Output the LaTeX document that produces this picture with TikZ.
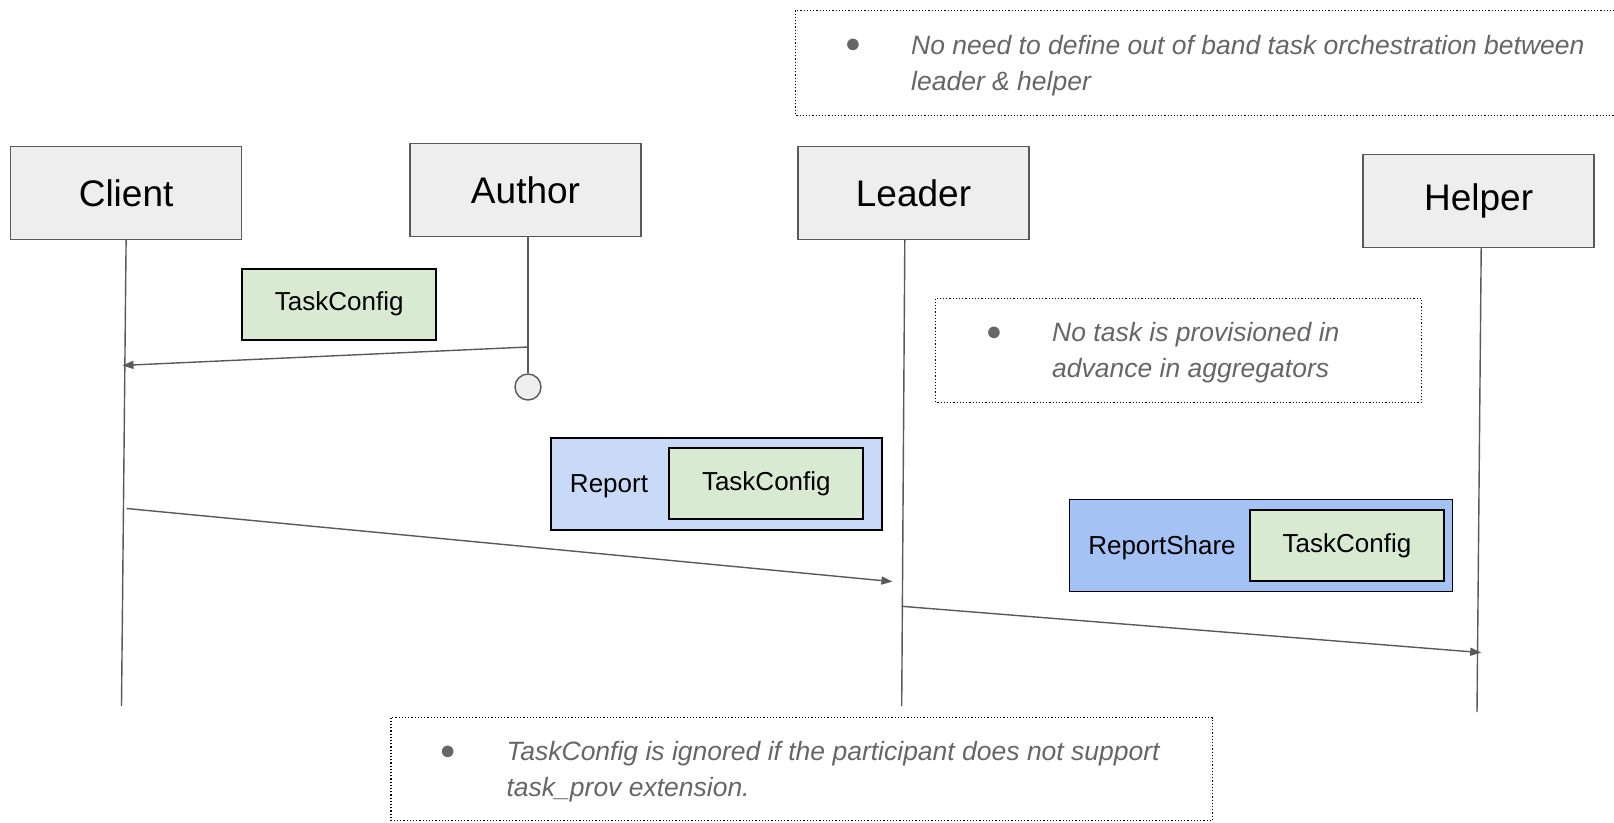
\documentclass[tikz,border=0pt]{standalone}
\usepackage{fontspec}
\setmainfont{Liberation Sans}
\usetikzlibrary{arrows.meta}
\definecolor{boxgray}{HTML}{EEEEEE}
\definecolor{linegray}{HTML}{595959}
\definecolor{cfggreen}{HTML}{D9EAD3}
\definecolor{rptblue}{HTML}{C9DAF8}
\definecolor{shareblue}{HTML}{A4C2F4}
\definecolor{notegray}{HTML}{666666}
\tikzstyle{actor}=[draw=linegray, fill=boxgray, line width=1.3pt, minimum width=231pt, minimum height=93pt, inner sep=0pt, font=\fontsize{37}{44}\selectfont]
\tikzstyle{cfg}=[draw=black, fill=cfggreen, line width=1.8pt, minimum width=194pt, minimum height=71pt, inner sep=0pt, font=\fontsize{26}{31}\selectfont]
\tikzstyle{msg}=[draw=black, line width=1.6pt, inner sep=0pt, minimum height=92pt]
\tikzstyle{note}=[draw=black, dotted, line width=1.2pt]
\tikzstyle{notetext}=[anchor=west, text=notegray, inner sep=0pt, align=left, font=\fontsize{26.5}{36}\selectfont\itshape]
\tikzstyle{bullet}=[text=notegray, inner sep=0pt, font=\fontsize{27}{30}\selectfont]
\tikzstyle{life}=[draw=linegray, line width=1.4pt]
\tikzstyle{call}=[life, -{Triangle[length=11pt,width=8pt]}]

\begin{document}
\begin{tikzpicture}[x=1pt, y=-1pt]
                \useasboundingbox (0,0) rectangle (1614,822);
                \clip (0,0) rectangle (1614,822);
                \node[actor] (client) at (126.1, 193) {Client};
                \node[actor] (author) at (525.5, 189.9) {Author};
                \node[actor] (leader) at (913.5, 193) {Leader};
                \node[actor] (helper) at (1478.6, 200.7) {Helper};
                \node[circle, draw=linegray, fill=boxgray, line width=1.4pt, minimum size=26pt, inner sep=0pt] (end) at (528, 387) {};
                \coordinate (cb) at (121.5, 706);
                \coordinate (lb) at (901.7, 706);
                \coordinate (hb) at (1477, 712);
                \draw[life] (client.south) -- (cb);
                \draw[life] ([xshift=2.5pt]author.south) -- (end.north);
                \draw[life] ([xshift=-8.7pt]leader.south) -- (lb);
                \draw[life] ([xshift=2.6pt]helper.south) -- (hb);
                \node[cfg] (cfg) at (339.2, 304.2) {TaskConfig};
                \node[msg, fill=rptblue, minimum width=331pt] (rpt) at (716.4, 483.8) {};
                \node[cfg] (rcfg) at (766.3, 483.8) {TaskConfig};
                \node[font=\fontsize{26}{31}\selectfont] (rl) at (609, 486) {Report};
                \node[msg, fill=shareblue, minimum width=383pt] (share) at (1261, 545.5) {};
                \node[cfg] (scfg) at (1346.9, 545.5) {TaskConfig};
                \node[font=\fontsize{26}{31}\selectfont] (sl) at (1162, 547.5) {ReportShare};
                \coordinate (a1s) at (528, 347);
                \coordinate (a1e) at (122.5, 365.4);
                \coordinate (a2s) at (126.6, 508.5);
                \coordinate (a2e) at (892.4, 581.6);
                \coordinate (a3s) at (901.7, 606.3);
                \coordinate (a3e) at (1481.2, 652.6);
                \draw[call] (a1s) -- (a1e);
                \draw[call] (a2s) -- (a2e);
                \draw[call] (a3s) -- (a3e);
                \draw[note] (795.7, 10.3) rectangle (1620, 115.3);
                \node[bullet] (b1) at (853, 46) {●};
                \node[notetext] (n1) at (911, 65.3) {No need to define out of band task orchestration between\\leader \& helper};
                \draw[note] (935.7, 298.5) rectangle (1421.5, 402.5);
                \node[bullet] (b2) at (994, 333.5) {●};
                \node[notetext] (n2) at (1052, 352.5) {No task is provisioned in\\advance in aggregators};
                \draw[note] (391, 717.5) rectangle (1212.5, 820.4);
                \node[bullet] (b3) at (447.7, 752.4) {●};
                \node[notetext] (n3) at (506.4, 771.4) {TaskConfig is ignored if the participant does not support\\task\_prov extension.};
            \end{tikzpicture}
\end{document}
